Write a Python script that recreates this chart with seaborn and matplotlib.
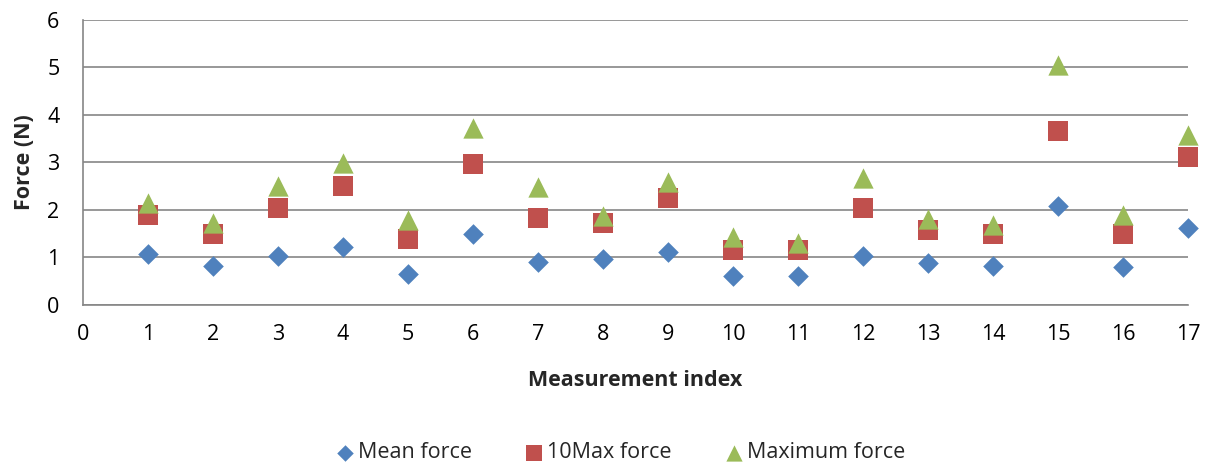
import matplotlib
matplotlib.use("Agg")
import matplotlib.pyplot as plt
import seaborn as sns
import pandas as pd

# ---- data ----
index = list(range(1, 18))
mean_force = [1.06, 0.81, 1.03, 1.22, 0.64, 1.50, 0.89, 0.96, 1.11, 0.61, 0.60, 1.03, 0.87, 0.82, 2.09, 0.79, 1.61]
max10_force = [1.88, 1.48, 2.04, 2.50, 1.38, 2.96, 1.82, 1.72, 2.25, 1.15, 1.16, 2.03, 1.57, 1.48, 3.67, 1.48, 3.11]
maximum_force = [2.14, 1.73, 2.50, 2.98, 1.78, 3.73, 2.47, 1.86, 2.58, 1.43, 1.31, 2.66, 1.80, 1.67, 5.05, 1.89, 3.58]
series_names = ["Mean force", "10Max force", "Maximum force"]
x_ticks = list(range(0, 18))
y_ticks = list(range(0, 7))

sns.set_theme(style="white")
plt.rcParams["font.family"] = ["Open Sans", "DejaVu Sans"]

FS = 15.5

fig = plt.figure(figsize=(12.3, 4.65), dpi=100)
ax = fig.add_axes([83 / 1230, 1 - 304.7 / 465, (1188 - 83) / 1230, (304.7 - 20) / 465])

series = [
    (series_names[0], mean_force, "D", "#4F81BD", 10.5 ** 2),
    (series_names[1], max10_force, "s", "#C0504D", 14.8 ** 2),
    (series_names[2], maximum_force, "^", "#9BBB59", 14.6 ** 2),
]
for i, (name, vals, mk, col, s) in enumerate(series):
    df = pd.DataFrame({"x": index, "y": vals})
    sns.scatterplot(data=df, x="x", y="y", marker=mk, color=col, s=s,
                    linewidth=0, ax=ax, label=name, zorder=3 + i, clip_on=False)

ax.set_xlim(0, 17)
ax.set_ylim(0, 6)
ax.set_xticks(x_ticks)
ax.set_yticks(y_ticks)
ax.grid(axis="y", color="#868686", linewidth=1.2)
ax.grid(axis="x", visible=False)
ax.set_axisbelow(True)

for side in ["top", "right"]:
    ax.spines[side].set_visible(False)
for side in ["left", "bottom"]:
    ax.spines[side].set_color("#868686")
    ax.spines[side].set_linewidth(1.2)

ax.tick_params(axis="both", which="major", direction="out", length=6,
               width=1.2, color="#868686", labelsize=FS, labelcolor="black")
ax.tick_params(axis="y", pad=11)
ax.tick_params(axis="x", pad=8)

ax.set_xlabel("Measurement index", fontsize=FS, fontweight="bold")
ax.set_ylabel("Force (N)", fontsize=FS, fontweight="bold")
ax.xaxis.set_label_coords(0.5, -0.23)
ax.yaxis.set_label_coords(-0.043, 0.5)

ax.get_legend().remove()
handles, labels = ax.get_legend_handles_labels()
fig.legend(handles, labels, loc="center", bbox_to_anchor=(0.504, 0.026), ncol=3,
           frameon=False, fontsize=FS, handlelength=1.0, handletextpad=0.1,
           columnspacing=2.4, markerscale=0.8)

fig.savefig("out.png", dpi=100)
